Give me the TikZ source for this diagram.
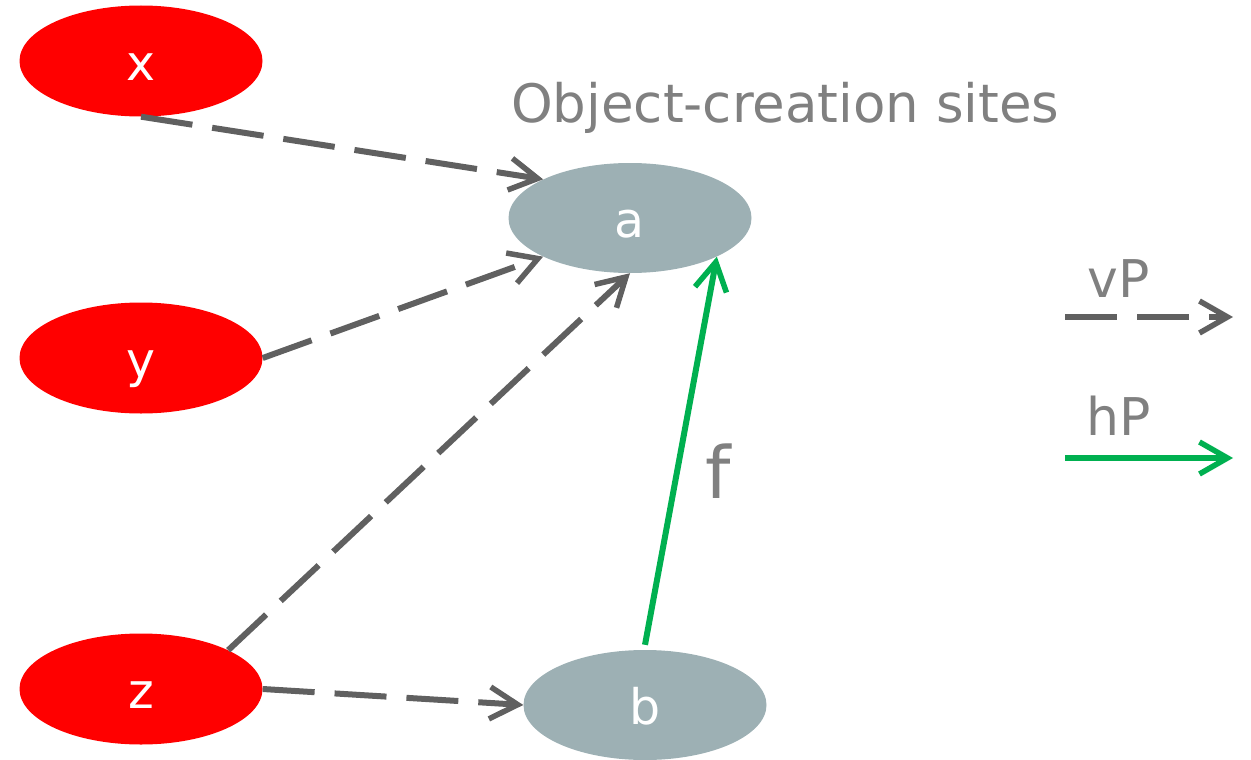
\documentclass[tikz,border=0pt]{standalone}
\usepackage{fontspec}
\setmainfont{DejaVu Sans}
\usetikzlibrary{shapes.geometric,arrows.meta}
\definecolor{sitefill}{HTML}{9DB0B4}
\definecolor{linkgray}{HTML}{606060}
\definecolor{textgray}{HTML}{808080}
\definecolor{heapgreen}{HTML}{00B050}
\begin{document}
\begin{tikzpicture}[x=1pt,y=-1pt,
  blob/.style={ellipse, draw=none, inner sep=0pt, text=white, text height=39pt, text depth=0pt, font=\fontsize{49}{49}\selectfont},
  varnode/.style={blob, fill=red, minimum width=243pt, minimum height=111pt},
  sitenode/.style={blob, fill=sitefill, minimum width=243pt, minimum height=110pt},
  tip/.style={-{Straight Barb[length=28pt,width=32pt,line width=5.5pt]}},
  vpedge/.style={tip, draw=linkgray, line width=6pt, dash pattern=on 52pt off 20pt},
  hpedge/.style={tip, draw=heapgreen, line width=6pt},
  lbl/.style={text=textgray, inner sep=0pt}
]
\useasboundingbox (0,0) rectangle (1251,760);

\node[varnode] (x) at (141,61) {x};
\node[varnode] (y) at (141,358) {y};
\node[varnode] (z) at (141,689) {z};
\node[sitenode] (a) at (630,218) {a};
\node[sitenode] (b) at (645,705) {b};

\node[lbl, font=\fontsize{53}{53}\selectfont, anchor=base west] (title) at (511,122) {Object-creation sites};

\draw[vpedge] (x.south) -- (a.156);
\draw[vpedge] (y.east) -- (a.204);
\draw[vpedge] (z.24) -- (a.south);
\draw[vpedge] (z.east) -- (b.west);
\draw[hpedge] ([yshift=5pt]b.north) -- (a.-24);
\node[lbl, font=\fontsize{72}{72}\selectfont, anchor=base] (flabel) at (718,498) {f};

% legend
\coordinate (vps) at (1065,317);
\coordinate (vpe) at (1233,317);
\coordinate (hps) at (1065,458);
\coordinate (hpe) at (1233,458);
\draw[vpedge] (vps) -- (vpe);
\draw[hpedge] (hps) -- (hpe);
\node[lbl, font=\fontsize{52}{52}\selectfont, anchor=base] (vplabel) at (1119,297) {vP};
\node[lbl, font=\fontsize{52}{52}\selectfont, anchor=base] (hplabel) at (1119,435) {hP};
\end{tikzpicture}
\end{document}
